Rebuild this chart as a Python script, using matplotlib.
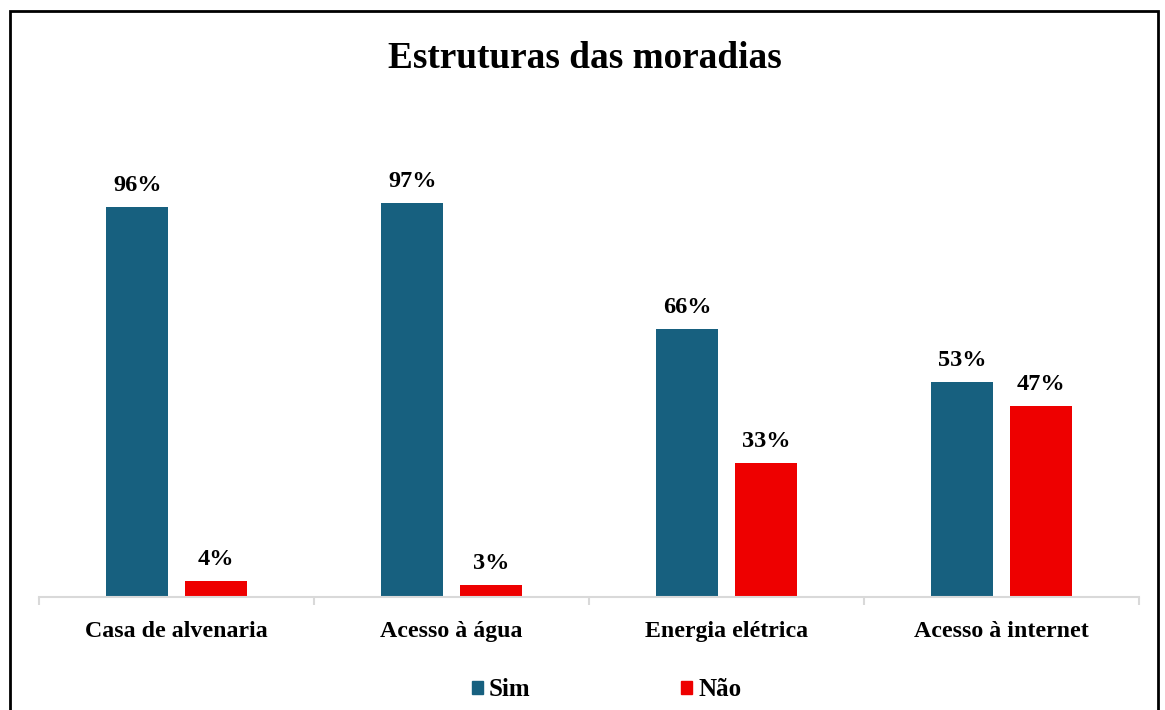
import matplotlib.pyplot as plt
import matplotlib.patches as mpatches
import numpy as np

categories = ["Casa de alvenaria", "Acesso à água", "Energia elétrica", "Acesso à internet"]
sim_values = [96, 97, 66, 53]
nao_values = [4, 3, 33, 47]
series_names = ["Sim", "Não"]

plt.rcParams['font.family'] = ['Liberation Serif', 'DejaVu Serif']
plt.rcParams['font.weight'] = 'bold'

blue = "#17607f"
red = "#ee0000"

fig = plt.figure(figsize=(11.65, 7.10), dpi=100)
ax = fig.add_axes([39/1165, 1-597/710, 1100/1165, 406.25/710])

x = np.arange(len(categories))
w = 0.225
off = 0.143
b1 = ax.bar(x - off, sim_values, w, color=blue, label=series_names[0])
b2 = ax.bar(x + off, nao_values, w, color=red, label=series_names[1])

for bars, vals in ((b1, sim_values), (b2, nao_values)):
    for r, v in zip(bars, vals):
        ax.annotate(f"{v}%", (r.get_x() + r.get_width()/2, v), xytext=(0, 8),
                    textcoords="offset points", ha="center", va="bottom",
                    fontsize=17.5, fontweight="bold", annotation_clip=False)

ax.set_xlim(-0.5, len(categories) - 0.5)
ax.set_ylim(0, 100)
for s in ("left", "right", "top"):
    ax.spines[s].set_visible(False)
ax.spines["bottom"].set_color("#d9d9d9")
ax.spines["bottom"].set_linewidth(1.5)
ax.set_yticks([])
ax.set_xticks(x)
ax.set_xticklabels(categories, fontsize=17.2, fontweight="bold")
ax.tick_params(axis="x", which="major", length=0, pad=17)
ax.set_xticks(np.arange(-0.5, len(categories), 1), minor=True)
ax.tick_params(axis="x", which="minor", length=6, color="#d9d9d9", width=1.5)

fig.text(585/1165, 1-58/710, "Estruturas das moradias", ha="center", va="center",
         fontsize=26.8, fontweight="bold")

leg = fig.legend(handles=[mpatches.Patch(color=blue, label=series_names[0]),
                          mpatches.Patch(color=red, label=series_names[1])],
                 loc="center", bbox_to_anchor=(606.5/1165, 1-690/710), ncol=2,
                 frameon=False, handlelength=0.45, handleheight=0.45,
                 handletextpad=0.25, columnspacing=6.0, borderpad=0,
                 prop={"weight": "bold", "size": 18})

border = mpatches.Rectangle((9.5/1165, -0.05), (1158-9.5)/1165, 1.05 - 11/710,
                            transform=fig.transFigure, fill=False, edgecolor="black",
                            linewidth=2, clip_on=False)
fig.patches.append(border)

fig.savefig("out.png", dpi=100)
